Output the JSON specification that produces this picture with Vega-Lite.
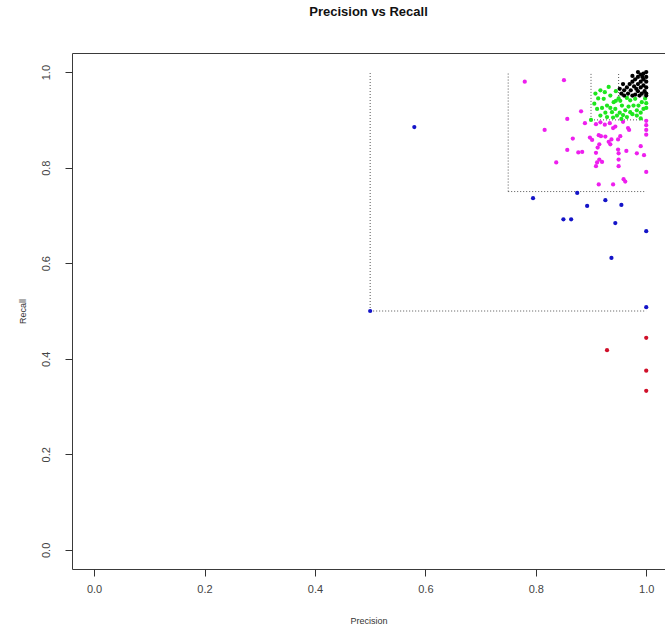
{
  "$schema": "https://vega.github.io/schema/vega-lite/v6.json",
  "width": 593,
  "height": 516,
  "autosize": {"type": "none"},
  "padding": {"left": 72, "top": 53, "right": 0, "bottom": 57},
  "background": "white",
  "config": {
    "view": {"stroke": "#3a3a3a", "strokeWidth": 1},
    "font": "Liberation Sans"
  },
  "title": {"text": "Precision vs Recall", "font": "Liberation Sans", "fontSize": 13, "fontWeight": "bold", "color": "#111", "anchor": "middle", "offset": 21, "baseline": "bottom"},
  "datasets": {
    "lines": [
      {"p": 0.5, "r": 0.5, "p2": 0.5, "r2": 1.0},
      {"p": 0.5, "r": 0.5, "p2": 1.0, "r2": 0.5},
      {"p": 0.75, "r": 0.75, "p2": 0.75, "r2": 1.0},
      {"p": 0.75, "r": 0.75, "p2": 1.0, "r2": 0.75},
      {"p": 0.9, "r": 0.9, "p2": 0.9, "r2": 1.0},
      {"p": 0.9, "r": 0.9, "p2": 1.0, "r2": 0.9},
      {"p": 0.95, "r": 0.95, "p2": 0.95, "r2": 1.0},
      {"p": 0.95, "r": 0.95, "p2": 1.0, "r2": 0.95}
    ],
    "pts": [
      {"p": 0.929, "r": 0.418, "g": "red"},
      {"p": 1.0, "r": 0.444, "g": "red"},
      {"p": 1.0, "r": 0.375, "g": "red"},
      {"p": 1.0, "r": 0.333, "g": "red"},
      {"p": 0.58, "r": 0.885, "g": "blue"},
      {"p": 0.5, "r": 0.5, "g": "blue"},
      {"p": 0.795, "r": 0.736, "g": "blue"},
      {"p": 0.875, "r": 0.747, "g": "blue"},
      {"p": 0.893, "r": 0.72, "g": "blue"},
      {"p": 0.926, "r": 0.732, "g": "blue"},
      {"p": 0.955, "r": 0.722, "g": "blue"},
      {"p": 0.85, "r": 0.692, "g": "blue"},
      {"p": 0.864, "r": 0.692, "g": "blue"},
      {"p": 0.944, "r": 0.684, "g": "blue"},
      {"p": 1.0, "r": 0.667, "g": "blue"},
      {"p": 0.937, "r": 0.611, "g": "blue"},
      {"p": 1.0, "r": 0.508, "g": "blue"},
      {"p": 0.78, "r": 0.98, "g": "magenta"},
      {"p": 0.851, "r": 0.983, "g": "magenta"},
      {"p": 0.882, "r": 0.918, "g": "magenta"},
      {"p": 0.857, "r": 0.902, "g": "magenta"},
      {"p": 0.889, "r": 0.893, "g": "magenta"},
      {"p": 0.816, "r": 0.879, "g": "magenta"},
      {"p": 0.909, "r": 0.891, "g": "magenta"},
      {"p": 0.917, "r": 0.895, "g": "magenta"},
      {"p": 0.934, "r": 0.893, "g": "magenta"},
      {"p": 0.944, "r": 0.886, "g": "magenta"},
      {"p": 0.958, "r": 0.896, "g": "magenta"},
      {"p": 1.0, "r": 0.898, "g": "magenta"},
      {"p": 1.0, "r": 0.889, "g": "magenta"},
      {"p": 1.0, "r": 0.879, "g": "magenta"},
      {"p": 1.0, "r": 0.869, "g": "magenta"},
      {"p": 0.914, "r": 0.868, "g": "magenta"},
      {"p": 0.867, "r": 0.861, "g": "magenta"},
      {"p": 0.898, "r": 0.863, "g": "magenta"},
      {"p": 0.902, "r": 0.858, "g": "magenta"},
      {"p": 0.918, "r": 0.866, "g": "magenta"},
      {"p": 0.926, "r": 0.865, "g": "magenta"},
      {"p": 0.953, "r": 0.866, "g": "magenta"},
      {"p": 0.967, "r": 0.883, "g": "magenta"},
      {"p": 0.935, "r": 0.849, "g": "magenta"},
      {"p": 0.932, "r": 0.854, "g": "magenta"},
      {"p": 0.949, "r": 0.859, "g": "magenta"},
      {"p": 0.915, "r": 0.849, "g": "magenta"},
      {"p": 0.857, "r": 0.837, "g": "magenta"},
      {"p": 0.877, "r": 0.832, "g": "magenta"},
      {"p": 0.884, "r": 0.833, "g": "magenta"},
      {"p": 0.909, "r": 0.831, "g": "magenta"},
      {"p": 0.912, "r": 0.842, "g": "magenta"},
      {"p": 0.949, "r": 0.838, "g": "magenta"},
      {"p": 0.95, "r": 0.83, "g": "magenta"},
      {"p": 0.964, "r": 0.835, "g": "magenta"},
      {"p": 0.983, "r": 0.83, "g": "magenta"},
      {"p": 0.99, "r": 0.845, "g": "magenta"},
      {"p": 0.996, "r": 0.826, "g": "magenta"},
      {"p": 0.915, "r": 0.817, "g": "magenta"},
      {"p": 0.911, "r": 0.811, "g": "magenta"},
      {"p": 0.92, "r": 0.812, "g": "magenta"},
      {"p": 0.837, "r": 0.811, "g": "magenta"},
      {"p": 0.909, "r": 0.803, "g": "magenta"},
      {"p": 0.95, "r": 0.817, "g": "magenta"},
      {"p": 0.95, "r": 0.803, "g": "magenta"},
      {"p": 1.0, "r": 0.791, "g": "magenta"},
      {"p": 0.914, "r": 0.765, "g": "magenta"},
      {"p": 0.94, "r": 0.765, "g": "magenta"},
      {"p": 0.959, "r": 0.776, "g": "magenta"},
      {"p": 0.962, "r": 0.771, "g": "magenta"},
      {"p": 0.94, "r": 0.883, "g": "magenta"},
      {"p": 0.969, "r": 0.879, "g": "magenta"},
      {"p": 0.937, "r": 0.859, "g": "magenta"},
      {"p": 0.925, "r": 0.89, "g": "magenta"},
      {"p": 0.908, "r": 0.955, "g": "green"},
      {"p": 0.906, "r": 0.934, "g": "green"},
      {"p": 0.911, "r": 0.923, "g": "green"},
      {"p": 0.917, "r": 0.962, "g": "green"},
      {"p": 0.923, "r": 0.944, "g": "green"},
      {"p": 0.932, "r": 0.969, "g": "green"},
      {"p": 0.935, "r": 0.951, "g": "green"},
      {"p": 0.929, "r": 0.93, "g": "green"},
      {"p": 0.941, "r": 0.937, "g": "green"},
      {"p": 0.944, "r": 0.923, "g": "green"},
      {"p": 0.95, "r": 0.945, "g": "green"},
      {"p": 0.953, "r": 0.94, "g": "green"},
      {"p": 0.956, "r": 0.93, "g": "green"},
      {"p": 0.962, "r": 0.92, "g": "green"},
      {"p": 0.971, "r": 0.941, "g": "green"},
      {"p": 0.977, "r": 0.93, "g": "green"},
      {"p": 0.983, "r": 0.92, "g": "green"},
      {"p": 0.992, "r": 0.937, "g": "green"},
      {"p": 0.995, "r": 0.923, "g": "green"},
      {"p": 0.998, "r": 0.945, "g": "green"},
      {"p": 0.917, "r": 0.909, "g": "green"},
      {"p": 0.929, "r": 0.906, "g": "green"},
      {"p": 0.947, "r": 0.909, "g": "green"},
      {"p": 0.965, "r": 0.906, "g": "green"},
      {"p": 0.983, "r": 0.909, "g": "green"},
      {"p": 0.938, "r": 0.916, "g": "green"},
      {"p": 0.971, "r": 0.916, "g": "green"},
      {"p": 0.945, "r": 0.96, "g": "green"},
      {"p": 0.92, "r": 0.925, "g": "green"},
      {"p": 0.926, "r": 0.915, "g": "green"},
      {"p": 0.935, "r": 0.925, "g": "green"},
      {"p": 0.94, "r": 0.905, "g": "green"},
      {"p": 0.952, "r": 0.915, "g": "green"},
      {"p": 0.958, "r": 0.91, "g": "green"},
      {"p": 0.968, "r": 0.928, "g": "green"},
      {"p": 0.975, "r": 0.912, "g": "green"},
      {"p": 0.986, "r": 0.93, "g": "green"},
      {"p": 0.99, "r": 0.915, "g": "green"},
      {"p": 1.0, "r": 0.925, "g": "green"},
      {"p": 1.0, "r": 0.935, "g": "green"},
      {"p": 0.913, "r": 0.945, "g": "green"},
      {"p": 0.925, "r": 0.958, "g": "green"},
      {"p": 0.945, "r": 0.94, "g": "green"},
      {"p": 0.955, "r": 0.902, "g": "green"},
      {"p": 0.99, "r": 0.903, "g": "green"},
      {"p": 0.9, "r": 0.9, "g": "green"},
      {"p": 0.965, "r": 0.946, "g": "green"},
      {"p": 0.98, "r": 0.944, "g": "green"},
      {"p": 1.0, "r": 1.0, "g": "black"},
      {"p": 0.995, "r": 0.997, "g": "black"},
      {"p": 0.99, "r": 0.995, "g": "black"},
      {"p": 0.985, "r": 0.99, "g": "black"},
      {"p": 1.0, "r": 0.99, "g": "black"},
      {"p": 0.995, "r": 0.985, "g": "black"},
      {"p": 0.98, "r": 0.985, "g": "black"},
      {"p": 0.975, "r": 0.98, "g": "black"},
      {"p": 0.99, "r": 0.98, "g": "black"},
      {"p": 1.0, "r": 0.98, "g": "black"},
      {"p": 0.97, "r": 0.975, "g": "black"},
      {"p": 0.985, "r": 0.975, "g": "black"},
      {"p": 0.995, "r": 0.972, "g": "black"},
      {"p": 0.965, "r": 0.968, "g": "black"},
      {"p": 0.978, "r": 0.97, "g": "black"},
      {"p": 0.99, "r": 0.968, "g": "black"},
      {"p": 1.0, "r": 0.968, "g": "black"},
      {"p": 0.96, "r": 0.962, "g": "black"},
      {"p": 0.972, "r": 0.962, "g": "black"},
      {"p": 0.985, "r": 0.96, "g": "black"},
      {"p": 0.997, "r": 0.96, "g": "black"},
      {"p": 0.955, "r": 0.955, "g": "black"},
      {"p": 0.967, "r": 0.955, "g": "black"},
      {"p": 0.98, "r": 0.953, "g": "black"},
      {"p": 0.992, "r": 0.955, "g": "black"},
      {"p": 0.952, "r": 0.965, "g": "black"},
      {"p": 0.958, "r": 0.975, "g": "black"},
      {"p": 0.975, "r": 0.992, "g": "black"},
      {"p": 0.985, "r": 1.0, "g": "black"},
      {"p": 1.0, "r": 0.955, "g": "black"},
      {"p": 0.96, "r": 0.951, "g": "black"},
      {"p": 0.975, "r": 0.951, "g": "black"},
      {"p": 0.988, "r": 0.951, "g": "black"},
      {"p": 1.0, "r": 0.951, "g": "black"},
      {"p": 0.982, "r": 0.965, "g": "black"},
      {"p": 0.993, "r": 0.99, "g": "black"}
    ]
  },
  "layer": [
    {
      "data": {"name": "lines"},
      "mark": {"type": "rule", "color": "#555", "strokeWidth": 1, "strokeDash": [1, 2]},
      "encoding": {
        "x": {"field": "p", "type": "quantitative"},
        "x2": {"field": "p2"},
        "y": {"field": "r", "type": "quantitative"},
        "y2": {"field": "r2"}
      }
    },
    {
      "data": {"name": "pts"},
      "mark": {"type": "circle", "size": 18, "opacity": 1},
      "encoding": {
        "x": {
          "field": "p", "type": "quantitative", "title": "Precision",
          "scale": {"domain": [-0.04, 1.034], "nice": false, "zero": false},
          "axis": {
            "values": [0, 0.2, 0.4, 0.6, 0.8, 1.0], "format": ".1f", "grid": false, "domain": false,
            "tickSize": 7, "tickColor": "#333", "labelPadding": 7, "labelFontSize": 11, "labelColor": "#444",
            "labelFont": "Liberation Sans", "titleFont": "Liberation Sans", "titleFontSize": 9, "titleFontWeight": "normal",
            "titleColor": "#333", "titleY": 51, "titleBaseline": "middle"
          }
        },
        "y": {
          "field": "r", "type": "quantitative", "title": "Recall",
          "scale": {"domain": [-0.04, 1.04], "nice": false, "zero": false},
          "axis": {
            "values": [0, 0.2, 0.4, 0.6, 0.8, 1.0], "format": ".1f", "grid": false, "domain": false,
            "tickSize": 7, "tickColor": "#333", "labelPadding": 14, "labelFontSize": 11, "labelColor": "#444",
            "labelAngle": -90, "labelAlign": "center", "labelBaseline": "bottom",
            "labelFont": "Liberation Sans", "titleFont": "Liberation Sans", "titleFontSize": 9, "titleFontWeight": "normal",
            "titleColor": "#333", "titleX": -50, "titleY": 258, "titleAngle": -90, "titleAlign": "center", "titleBaseline": "middle"
          }
        },
        "color": {
          "field": "g", "type": "nominal", "legend": null,
          "scale": {"domain": ["black", "green", "magenta", "blue", "red"], "range": ["#000000", "#1ee61e", "#ee1fee", "#1414c8", "#d0102a"]}
        }
      }
    }
  ]
}
